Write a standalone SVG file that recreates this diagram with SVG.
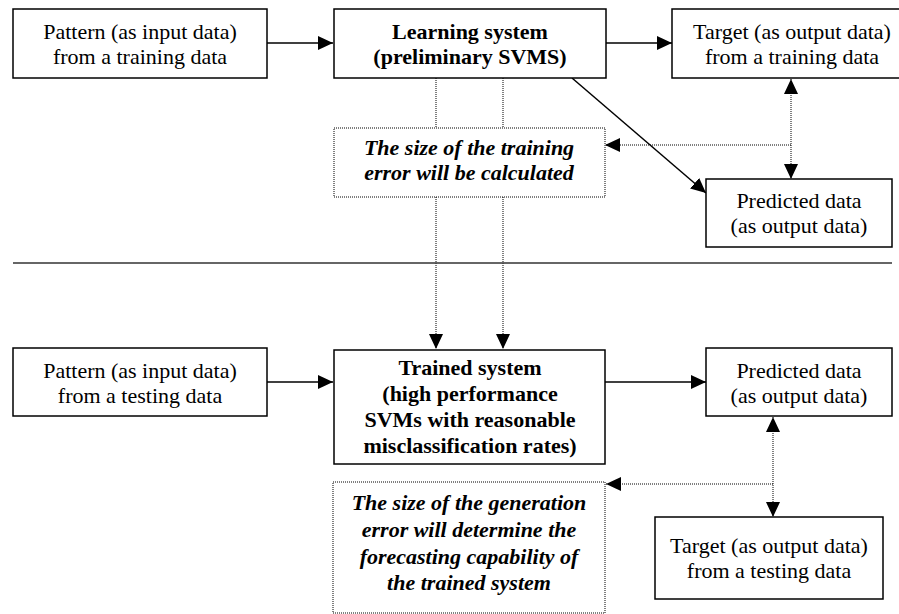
<svg xmlns="http://www.w3.org/2000/svg" width="899" height="614" viewBox="0 0 899 614">
<style>
.box{fill:#fff;stroke:#000;stroke-width:1.5}
.dbox{fill:#fff;stroke:#000;stroke-width:1;stroke-dasharray:1,1}
text{font-family:"Liberation Serif","DejaVu Serif","Times New Roman",Times,serif;font-size:22px;fill:#000;text-anchor:middle}
.b{font-weight:bold}
.i{font-weight:bold;font-style:italic}
.solid{stroke:#000;stroke-width:1.5;fill:none}
.dot{stroke:#000;stroke-width:1;stroke-dasharray:1,1;fill:none}
.sep{stroke:#333;stroke-width:1.6}
</style>
<defs>
<marker id="ah" markerUnits="userSpaceOnUse" markerWidth="16" markerHeight="14" refX="15" refY="7" orient="auto-start-reverse" viewBox="0 0 16 14">
<path d="M0,0 L15,7 L0,14 Z" fill="#000"/>
</marker>
</defs>
<rect width="899" height="614" fill="#fff"/>
<g id="connectors">
<line class="solid" x1="267" y1="43" x2="333" y2="43" marker-end="url(#ah)"/>
<line class="solid" x1="606" y1="43" x2="672" y2="43" marker-end="url(#ah)"/>
<line class="solid" x1="572" y1="78" x2="706" y2="193" marker-end="url(#ah)"/>
<line class="dot" x1="791" y1="79" x2="791" y2="179" marker-start="url(#ah)" marker-end="url(#ah)"/>
<line class="dot" x1="791" y1="145" x2="605" y2="145" marker-end="url(#ah)"/>
<line class="dot" x1="436" y1="78" x2="436" y2="128"/>
<line class="dot" x1="503" y1="78" x2="503" y2="128"/>
<line class="dot" x1="436" y1="197" x2="436" y2="349" marker-end="url(#ah)"/>
<line class="dot" x1="503" y1="197" x2="503" y2="349" marker-end="url(#ah)"/>
<line class="solid" x1="267" y1="382" x2="333" y2="382" marker-end="url(#ah)"/>
<line class="solid" x1="605" y1="382" x2="706" y2="382" marker-end="url(#ah)"/>
<line class="dot" x1="773" y1="417" x2="773" y2="517" marker-start="url(#ah)" marker-end="url(#ah)"/>
<line class="dot" x1="773" y1="484" x2="606" y2="484" marker-end="url(#ah)"/>
<line class="sep" x1="13" y1="263" x2="892" y2="263"/>
</g>
<g id="pattern-training">
<rect class="box" x="13" y="9" width="254" height="69"/>
<text x="140" y="39">Pattern (as input data)</text>
<text x="140" y="64">from a training data</text>
</g>
<g id="learning-system">
<rect class="box" x="334" y="9" width="272" height="69"/>
<text class="b" x="470" y="39">Learning system</text>
<text class="b" x="470" y="64">(preliminary SVMS)</text>
</g>
<g id="target-training">
<rect class="box" x="672" y="9" width="240" height="69"/>
<text x="792" y="39">Target (as output data)</text>
<text x="792" y="64">from a training data</text>
</g>
<g id="training-error">
<rect class="dbox" x="334" y="128" width="271" height="69"/>
<text class="i" x="469" y="155">The size of the training</text>
<text class="i" x="469" y="180">error will be calculated</text>
</g>
<g id="predicted-training">
<rect class="box" x="706" y="179" width="186" height="68"/>
<text x="799" y="208">Predicted data</text>
<text x="799" y="233">(as output data)</text>
</g>
<g id="pattern-testing">
<rect class="box" x="13" y="348" width="254" height="68"/>
<text x="140" y="378">Pattern (as input data)</text>
<text x="140" y="403">from a testing data</text>
</g>
<g id="trained-system">
<rect class="box" x="334" y="350" width="271" height="114"/>
<text class="b" x="470" y="375">Trained system</text>
<text class="b" x="470" y="401">(high performance</text>
<text class="b" x="470" y="427">SVMs with reasonable</text>
<text class="b" x="470" y="453">misclassification rates)</text>
</g>
<g id="predicted-testing">
<rect class="box" x="706" y="348" width="186" height="68"/>
<text x="799" y="378">Predicted data</text>
<text x="799" y="403">(as output data)</text>
</g>
<g id="generation-error">
<rect class="dbox" x="333" y="482" width="272" height="131"/>
<text class="i" x="469" y="510">The size of the generation</text>
<text class="i" x="469" y="537">error will determine the</text>
<text class="i" x="469" y="564">forecasting capability of</text>
<text class="i" x="469" y="590">the trained system</text>
</g>
<g id="target-testing">
<rect class="box" x="655" y="517" width="228" height="82"/>
<text x="769" y="553">Target (as output data)</text>
<text x="769" y="578">from a testing data</text>
</g>
</svg>
